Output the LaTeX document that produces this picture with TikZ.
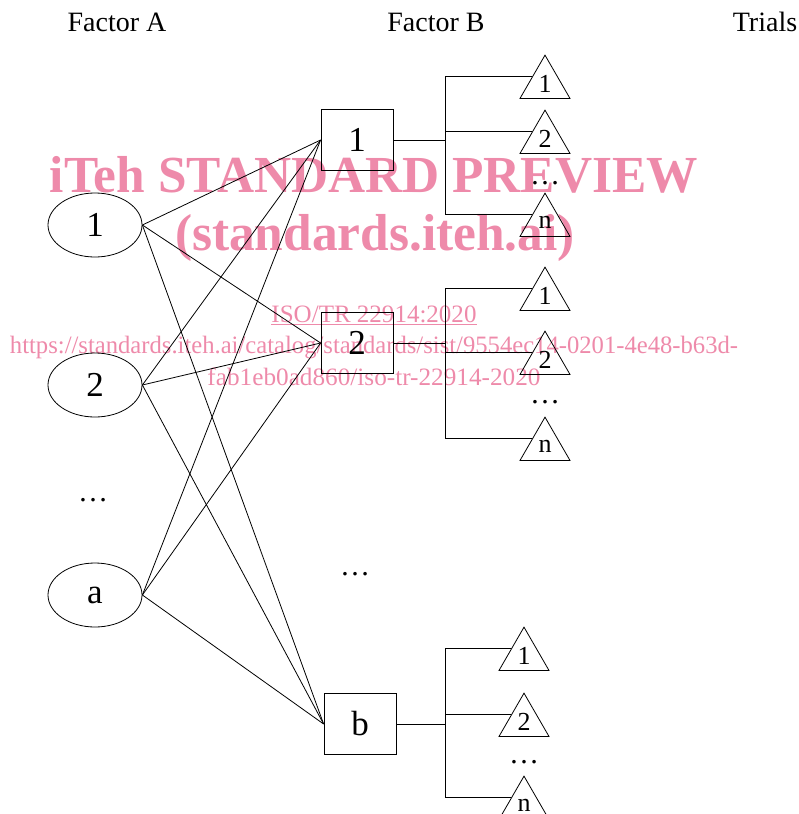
\documentclass[tikz,border=0pt]{standalone}
\usepackage{fontspec}
\setmainfont{Liberation Serif}
\usepackage{graphicx}
\usepackage{xcolor}
\usepackage{tikz}
\usetikzlibrary{shapes.geometric, positioning}

\definecolor{wmpink}{RGB}{238,138,170}

\begin{document}
\begin{tikzpicture}[x=1pt, y=-1pt, line width=0.8pt,
    lvA/.style={draw, ellipse, minimum width=94pt, minimum height=64pt, inner sep=0pt, font=\fontsize{35}{40}\selectfont},
    lvB/.style={draw, rectangle, minimum width=72pt, minimum height=61pt, inner sep=0pt, font=\fontsize{35}{40}\selectfont},
    trial/.style={draw, regular polygon, regular polygon sides=3, minimum size=57.7pt, inner sep=0pt, font=\fontsize{26}{30}\selectfont},
    head/.style={anchor=base, inner sep=0pt, font=\fontsize{28}{32}\selectfont},
    dots/.style={inner sep=0pt, font=\fontsize{30}{34}\selectfont},
    wm/.style={text=wmpink, anchor=base, inner sep=0pt}]
    \useasboundingbox (0,0) rectangle (798,814);

    % --- Watermark (under the diagram) ---
    \node[wm, font=\bfseries\fontsize{52}{60}\selectfont] (wm1) at (374,192) {\resizebox{648pt}{\height}{iTeh STANDARD PREVIEW}};
    \node[wm, font=\bfseries\fontsize{52}{60}\selectfont] (wm2) at (375,250) {\resizebox{400pt}{\height}{(standards.iteh.ai)}};
    \node[wm, font=\fontsize{25}{30}\selectfont] (wm3) at (374,322) {\resizebox{205pt}{\height}{\underline{ISO/TR 22914:2020}}};
    \node[wm, font=\fontsize{25}{30}\selectfont] (wm4) at (374,353) {\resizebox{728pt}{\height}{https://standards.iteh.ai/catalog/standards/sist/9554ec14-0201-4e48-b63d-}};
    \node[wm, font=\fontsize{25}{30}\selectfont] (wm5) at (374,385) {\resizebox{333pt}{\height}{fab1eb0ad860/iso-tr-22914-2020}};

    % --- Headings ---
    \node[head] (hA) at (117,31) {Factor A};
    \node[head] (hB) at (436,31) {Factor B};
    \node[head] (hT) at (765,31) {Trials};

    % Levels of factor A
    \node[lvA] (a1) at (95,225) {1};
    \node[lvA] (a2) at (95,385) {2};
    \node[dots] (adots) at (93,500) {\dots};
    \node[lvA] (aa) at (95,595) {a};

    % Levels of factor B
    \node[lvB] (b1) at (357,140) {1};
    \node[lvB] (b2) at (357,343) {2};
    \node[dots] (bdots) at (355,574) {\dots};
    \node[lvB] (bb) at (360,724) {b};

    % every A level crossed with every B level
    \foreach \i in {a1,a2,aa}
        \foreach \j in {b1,b2,bb}
            \draw (\i.east) -- (\j.west);

    % --- Trials under each B level ---
    \foreach \b/\tx/\cx/\ya/\yb/\yn/\yd in {b1/445/545/84/139/222/183, b2/445/545/296/360/446/402, bb/445/524/656/722/805/762} {
        \node[trial] (\b-1) at (\cx,\ya) {1};
        \node[trial] (\b-2) at (\cx,\yb) {2};
        \node[dots] (\b-d) at (\cx,\yd) {\dots};
        \node[trial] (\b-n) at (\cx,\yn) {n};
        \coordinate (\b-k) at (\tx,\ya);
        \draw (\b.east) -- (\b.east -| \b-k);
        \draw (\b-1.150) -- (\b-1.150 -| \b-k) -- (\b-n.150 -| \b-k) -- (\b-n.150);
        \draw (\b-2.150) -- (\b-2.150 -| \b-k);
    }
\end{tikzpicture}
\end{document}
